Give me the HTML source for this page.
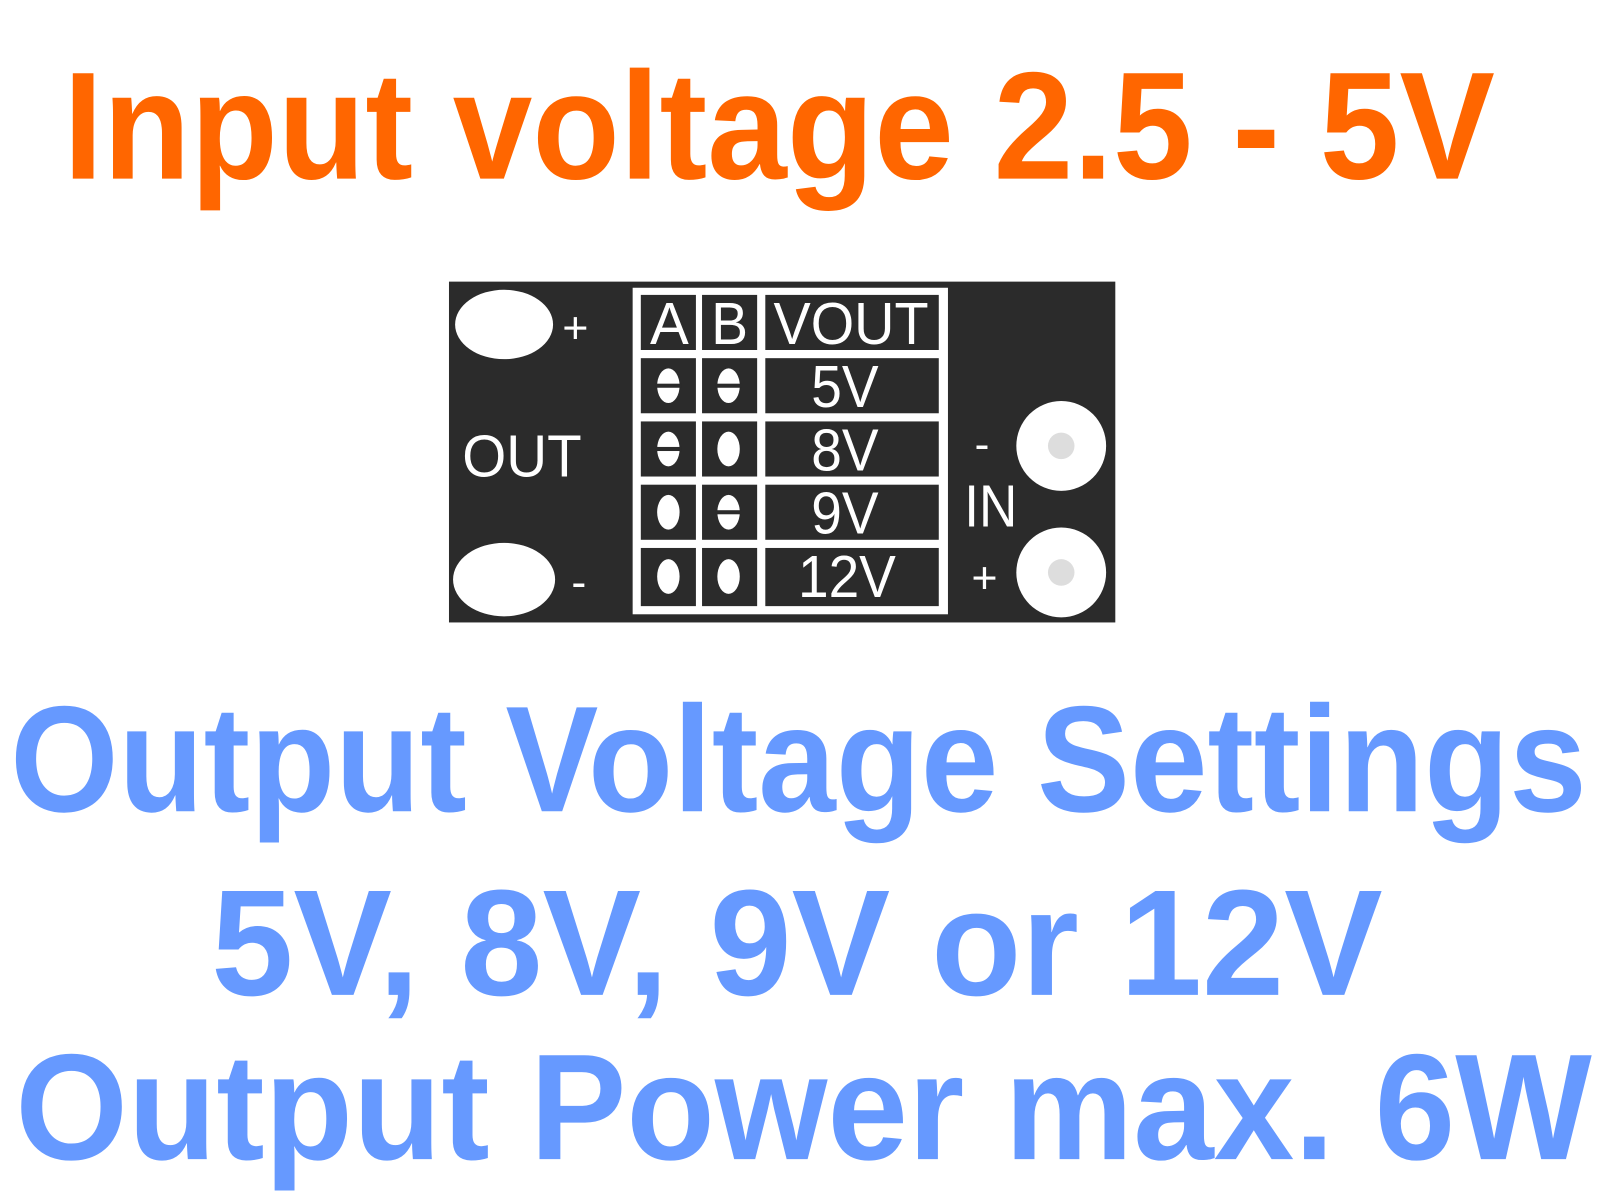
<!DOCTYPE html>
<html><head><meta charset="utf-8"><style>
html,body{margin:0;padding:0;background:#fff;}
svg{display:block;}
text{font-family:"Liberation Sans",sans-serif;font-weight:bold;}
.b text{font-weight:normal;}
</style></head><body>
<svg width="1600" height="1200" viewBox="0 0 1568 1176" preserveAspectRatio="none" xmlns="http://www.w3.org/2000/svg">
<rect width="1568" height="1176" fill="#fff"/>
<text x="62" y="175" font-size="150" fill="#ff6600" textLength="1403" lengthAdjust="spacingAndGlyphs">Input voltage 2.5 - 5V</text>

<rect x="440" y="276" width="653" height="334" fill="#2b2b2b"/>
<ellipse cx="494" cy="318" rx="48" ry="34" fill="#fff"/>
<ellipse cx="494" cy="568" rx="50" ry="36" fill="#fff"/>
<circle cx="1040" cy="437" r="44" fill="#fff"/>
<circle cx="1040" cy="437" r="13" fill="#ddd"/>
<circle cx="1040" cy="561" r="44" fill="#fff"/>
<circle cx="1040" cy="561" r="13" fill="#ddd"/>
<g class="b">
<text x="551" y="336" font-size="44" fill="#fff">+</text>
<text x="560" y="585" font-size="44" fill="#fff">-</text>
<text x="453" y="467" font-size="58" fill="#fff" textLength="117" lengthAdjust="spacingAndGlyphs">OUT</text>
<text x="955" y="450" font-size="44" fill="#fff">-</text>
<text x="945" y="516" font-size="58" fill="#fff" textLength="52" lengthAdjust="spacingAndGlyphs">IN</text>
<text x="952" y="581" font-size="44" fill="#fff">+</text>
</g>

<rect x="620" y="282" width="309" height="320" fill="#fff"/>
<g fill="#2b2b2b">
<rect x="628" y="289" width="54" height="54"/><rect x="688" y="289" width="54" height="54"/><rect x="750" y="289" width="170" height="54"/>
<rect x="628" y="351" width="54" height="54"/><rect x="688" y="351" width="54" height="54"/><rect x="750" y="351" width="170" height="54"/>
<rect x="628" y="413" width="54" height="54"/><rect x="688" y="413" width="54" height="54"/><rect x="750" y="413" width="170" height="54"/>
<rect x="628" y="475" width="54" height="54"/><rect x="688" y="475" width="54" height="54"/><rect x="750" y="475" width="170" height="54"/>
<rect x="628" y="537" width="54" height="57"/><rect x="688" y="537" width="54" height="57"/><rect x="750" y="537" width="170" height="57"/>
</g>
<g class="b" fill="#fff" font-size="58">
<text x="637" y="337" textLength="38" lengthAdjust="spacingAndGlyphs">A</text>
<text x="697" y="337" textLength="36" lengthAdjust="spacingAndGlyphs">B</text>
<text x="758" y="337" textLength="152" lengthAdjust="spacingAndGlyphs">VOUT</text>
<text x="795" y="399" textLength="66" lengthAdjust="spacingAndGlyphs">5V</text>
<text x="795" y="461" textLength="66" lengthAdjust="spacingAndGlyphs">8V</text>
<text x="795" y="523" textLength="66" lengthAdjust="spacingAndGlyphs">9V</text>
<text x="782" y="585" textLength="96" lengthAdjust="spacingAndGlyphs">12V</text>
</g>
<g fill="#fff">
<ellipse cx="655" cy="378" rx="11" ry="17"/><ellipse cx="714" cy="378" rx="11" ry="17"/>
<ellipse cx="655" cy="440" rx="11" ry="17"/><ellipse cx="714" cy="440" rx="11" ry="17"/>
<ellipse cx="655" cy="502" rx="11" ry="17"/><ellipse cx="714" cy="502" rx="11" ry="17"/>
<ellipse cx="655" cy="565" rx="11" ry="17"/><ellipse cx="714" cy="565" rx="11" ry="17"/>
</g>
<g fill="#2b2b2b">
<rect x="642" y="376" width="26" height="4"/><rect x="701" y="376" width="26" height="4"/>
<rect x="642" y="438" width="26" height="4"/>
<rect x="701" y="500" width="26" height="4"/>
</g>

<g fill="#6699ff">
<text x="10" y="795" font-size="148" textLength="1545" lengthAdjust="spacingAndGlyphs">Output Voltage Settings</text>
<text x="207" y="975" font-size="148" textLength="1148" lengthAdjust="spacingAndGlyphs">5V, 8V, 9V or 12V</text>
<text x="15" y="1136" font-size="148" textLength="1545" lengthAdjust="spacingAndGlyphs">Output Power max. 6W</text>
</g>
</svg>
</body></html>
